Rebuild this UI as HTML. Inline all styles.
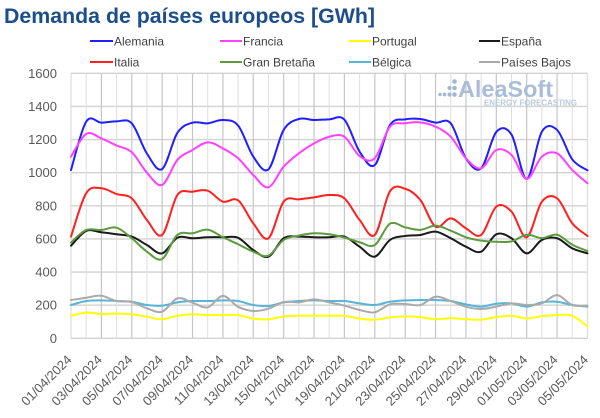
<!DOCTYPE html>
<html>
<head>
<meta charset="utf-8">
<style>
html,body{margin:0;padding:0;background:#fff;}
svg{display:block;font-family:"Liberation Sans",Arial,sans-serif;}
.g line{vector-effect:non-scaling-stroke;}
.s{fill:none;stroke-width:2;vector-effect:non-scaling-stroke;stroke-linejoin:round;stroke-linecap:round;}
.yl{font-size:13px;fill:#595959;text-anchor:end;}
.xl{font-size:13px;fill:#595959;text-anchor:end;}
.lg{font-size:12px;fill:#404040;}
</style>
</head>
<body>
<svg id="c" width="600" height="418" viewBox="0 0 600 418" xmlns="http://www.w3.org/2000/svg">
<rect width="600" height="418" fill="#fff"/>
<text x="4" y="23" font-size="21" font-weight="bold" fill="#1c4e8a" textLength="371" lengthAdjust="spacingAndGlyphs">Demanda de países europeos [GWh]</text>

<!-- legend -->
<g stroke-width="2">
<line x1="90" y1="41" x2="113" y2="41" stroke="#1f1fff"/>
<line x1="220" y1="41" x2="242" y2="41" stroke="#ff40ff"/>
<line x1="349" y1="41" x2="371" y2="41" stroke="#ffff00"/>
<line x1="479" y1="41" x2="500" y2="41" stroke="#1a1a1a"/>
<line x1="90" y1="62" x2="113" y2="62" stroke="#ff2020"/>
<line x1="220" y1="62" x2="242" y2="62" stroke="#5b9a3d"/>
<line x1="349" y1="62" x2="371" y2="62" stroke="#55b4d8"/>
<line x1="479" y1="62" x2="500" y2="62" stroke="#aaaaaa"/>
</g>
<text class="lg" x="114" y="45.5">Alemania</text>
<text class="lg" x="243" y="45.5">Francia</text>
<text class="lg" x="372" y="45.5">Portugal</text>
<text class="lg" x="501" y="45.5">España</text>
<text class="lg" x="114" y="66.5">Italia</text>
<text class="lg" x="243" y="66.5">Gran Bretaña</text>
<text class="lg" x="372" y="66.5">Bélgica</text>
<text class="lg" x="501" y="66.5">Países Bajos</text>

<!-- grid -->
<g class="g" transform="translate(71,338.3) scale(15.19,-0.165625)">
<g stroke="#d2d2d2" stroke-width="1.3">
<line x1="0" y1="0" x2="34" y2="0"/><line x1="0" y1="200" x2="34" y2="200"/><line x1="0" y1="400" x2="34" y2="400"/>
<line x1="0" y1="600" x2="34" y2="600"/><line x1="0" y1="800" x2="34" y2="800"/><line x1="0" y1="1000" x2="34" y2="1000"/>
<line x1="0" y1="1200" x2="34" y2="1200"/><line x1="0" y1="1400" x2="34" y2="1400"/><line x1="0" y1="1600" x2="34" y2="1600"/>
</g>
<g stroke="#dedede" stroke-width="1">
<line x1="1" y1="0" x2="1" y2="1600"/><line x1="3" y1="0" x2="3" y2="1600"/><line x1="5" y1="0" x2="5" y2="1600"/>
<line x1="7" y1="0" x2="7" y2="1600"/><line x1="9" y1="0" x2="9" y2="1600"/><line x1="11" y1="0" x2="11" y2="1600"/>
<line x1="13" y1="0" x2="13" y2="1600"/><line x1="15" y1="0" x2="15" y2="1600"/><line x1="17" y1="0" x2="17" y2="1600"/>
<line x1="19" y1="0" x2="19" y2="1600"/><line x1="21" y1="0" x2="21" y2="1600"/><line x1="23" y1="0" x2="23" y2="1600"/>
<line x1="25" y1="0" x2="25" y2="1600"/><line x1="27" y1="0" x2="27" y2="1600"/><line x1="29" y1="0" x2="29" y2="1600"/>
<line x1="31" y1="0" x2="31" y2="1600"/><line x1="33" y1="0" x2="33" y2="1600"/>
</g>
<g stroke="#c6c6c6" stroke-width="1.2">
<line x1="0" y1="0" x2="0" y2="1600" stroke="#dcdcdc"/><line x1="2" y1="0" x2="2" y2="1600"/><line x1="4" y1="0" x2="4" y2="1600"/>
<line x1="6" y1="0" x2="6" y2="1600"/><line x1="8" y1="0" x2="8" y2="1600"/><line x1="10" y1="0" x2="10" y2="1600"/>
<line x1="12" y1="0" x2="12" y2="1600"/><line x1="14" y1="0" x2="14" y2="1600"/><line x1="16" y1="0" x2="16" y2="1600"/>
<line x1="18" y1="0" x2="18" y2="1600"/><line x1="20" y1="0" x2="20" y2="1600"/><line x1="22" y1="0" x2="22" y2="1600"/>
<line x1="24" y1="0" x2="24" y2="1600"/><line x1="26" y1="0" x2="26" y2="1600"/><line x1="28" y1="0" x2="28" y2="1600"/>
<line x1="30" y1="0" x2="30" y2="1600"/><line x1="32" y1="0" x2="32" y2="1600"/><line x1="34" y1="0" x2="34" y2="1600" stroke="#dcdcdc"/>
</g>
</g>

<!-- watermark -->
<g fill="#a3b7d5">
<circle cx="440" cy="94.5" r="1.7"/>
<circle cx="444.5" cy="94.5" r="1.9"/>
<circle cx="449.5" cy="94.5" r="2.1"/>
<circle cx="454.5" cy="94.5" r="2.3"/>
<circle cx="449.5" cy="88" r="2.1"/>
<circle cx="454.5" cy="88" r="2.3"/>
<circle cx="454.5" cy="81.5" r="2.3"/>
</g>
<text x="458" y="97" font-size="23" font-weight="bold" fill="#a9bdd9" textLength="95" lengthAdjust="spacingAndGlyphs">AleaSoft</text>
<text x="484" y="105.3" font-size="8" font-weight="bold" fill="#b9c9df" textLength="93" lengthAdjust="spacingAndGlyphs">ENERGY FORECASTING</text>

<!-- y labels -->
<text class="yl" x="57" y="342.8">0</text>
<text class="yl" x="57" y="309.7">200</text>
<text class="yl" x="57" y="276.5">400</text>
<text class="yl" x="57" y="243.4">600</text>
<text class="yl" x="57" y="210.3">800</text>
<text class="yl" x="57" y="177.2">1000</text>
<text class="yl" x="57" y="144.1">1200</text>
<text class="yl" x="57" y="110.9">1400</text>
<text class="yl" x="57" y="77.8">1600</text>

<!-- x labels -->
<text class="xl" transform="translate(72.5,360.5) rotate(-45)">01/04/2024</text>
<text class="xl" transform="translate(102.9,360.5) rotate(-45)">03/04/2024</text>
<text class="xl" transform="translate(133.3,360.5) rotate(-45)">05/04/2024</text>
<text class="xl" transform="translate(163.6,360.5) rotate(-45)">07/04/2024</text>
<text class="xl" transform="translate(194.0,360.5) rotate(-45)">09/04/2024</text>
<text class="xl" transform="translate(224.4,360.5) rotate(-45)">11/04/2024</text>
<text class="xl" transform="translate(254.8,360.5) rotate(-45)">13/04/2024</text>
<text class="xl" transform="translate(285.2,360.5) rotate(-45)">15/04/2024</text>
<text class="xl" transform="translate(315.5,360.5) rotate(-45)">17/04/2024</text>
<text class="xl" transform="translate(345.9,360.5) rotate(-45)">19/04/2024</text>
<text class="xl" transform="translate(376.3,360.5) rotate(-45)">21/04/2024</text>
<text class="xl" transform="translate(406.7,360.5) rotate(-45)">23/04/2024</text>
<text class="xl" transform="translate(437.1,360.5) rotate(-45)">25/04/2024</text>
<text class="xl" transform="translate(467.4,360.5) rotate(-45)">27/04/2024</text>
<text class="xl" transform="translate(497.8,360.5) rotate(-45)">29/04/2024</text>
<text class="xl" transform="translate(528.2,360.5) rotate(-45)">01/05/2024</text>
<text class="xl" transform="translate(558.6,360.5) rotate(-45)">03/05/2024</text>
<text class="xl" transform="translate(589.0,360.5) rotate(-45)">05/05/2024</text>

<!-- series -->
<g id="ser" transform="translate(71,338.3) scale(15.19,-0.165625)">
<polyline class="s" stroke="#1f1fff" points="0,1016 1,1308 2,1302 3,1310 4,1298 5,1115 6,1022 7,1240 8,1302 9,1298 10,1318 11,1285 12,1097 13,1020 14,1258 15,1324 16,1318 17,1322 18,1320 19,1127 20,1046 21,1288 22,1322 23,1324 24,1302 25,1298 26,1087 27,1026 28,1246 29,1230 30,962 31,1248 32,1258 33,1080 34,1014"/>
<polyline class="s" stroke="#ff40ff" points="0,1097 1,1234 2,1207 3,1164 4,1124 5,1000 6,926 7,1077 8,1137 9,1183 10,1147 11,1087 12,986 13,912 14,1036 15,1117 16,1177 17,1217 18,1217 19,1100 20,1087 21,1278 22,1298 23,1304 24,1278 25,1217 26,1087 27,1026 28,1137 29,1107 30,962 31,1097 32,1117 33,1016 34,936"/>
<polyline class="s" stroke="#ffff00" points="0,136 1,155 2,147 3,149 4,145 5,130 6,115 7,136 8,145 9,140 10,140 11,140 12,119 13,115 14,132 15,136 16,136 17,136 18,136 19,119 20,112 21,126 22,132 23,128 24,115 25,122 26,115 27,113 28,128 29,136 30,120 31,134 32,140 33,136 34,72"/>
<polyline class="s" stroke="#1a1a1a" points="0,559 1,648 2,640 3,628 4,614 5,563 6,513 7,607 8,604 9,610 10,610 11,607 12,533 13,493 14,604 15,614 16,610 17,610 18,614 19,553 20,493 21,594 22,618 23,624 24,644 25,604 26,553 27,523 28,628 29,604 30,513 31,594 32,604 33,543 34,513"/>
<polyline class="s" stroke="#ff2020" points="0,614 1,876 2,906 3,871 4,845 5,714 6,624 7,865 8,885 9,891 10,825 11,833 12,694 13,604 14,825 15,839 16,851 17,865 18,845 19,714 20,624 21,888 22,903 23,835 24,674 25,724 26,664 27,624 28,795 29,765 30,610 31,825 32,845 33,694 34,618"/>
<polyline class="s" stroke="#5b9a3d" points="0,578 1,654 2,654 3,668 4,604 5,523 6,479 7,624 8,634 9,656 10,610 11,568 12,523 13,499 14,594 15,620 16,634 17,628 18,608 19,580 20,563 21,692 22,670 23,655 24,680 25,650 26,610 27,590 28,583 29,585 30,625 31,605 32,625 33,565 34,527"/>
<polyline class="s" stroke="#55b4d8" points="0,201 1,225 2,229 3,225 4,221 5,201 6,197 7,217 8,225 9,225 10,229 11,225 12,201 13,195 14,217 15,225 16,229 17,225 18,225 19,211 20,201 21,221 22,229 23,231 24,231 25,225 26,205 27,191 28,209 29,211 30,191 31,217 32,221 33,201 34,191"/>
<polyline class="s" stroke="#aaaaaa" points="0,231 1,245 2,257 3,225 4,219 5,181 6,161 7,241 8,215 9,187 10,256 11,190 12,165 13,179 14,219 15,217 16,235 17,217 18,197 19,171 20,157 21,205 22,207 23,201 24,251 25,225 26,191 27,177 28,191 29,211 30,201 31,211 32,261 33,201 34,197"/>
</g>
</svg>
<script>
(function(){
  var g=document.getElementById('ser');
  if(!g)return;
  var pls=g.querySelectorAll('polyline');
  for(var k=0;k<pls.length;k++){
    var pl=pls[k];
    var raw=pl.getAttribute('points').trim().split(/\s+/);
    var p=[];
    for(var i=0;i<raw.length;i++){var a=raw[i].split(',');p.push([parseFloat(a[0]),parseFloat(a[1])]);}
    var d='M'+p[0][0]+','+p[0][1];
    for(var i=0;i<p.length-1;i++){
      var p0=p[i-1]||p[i],p1=p[i],p2=p[i+1],p3=p[i+2]||p[i+1];
      var c1x=p1[0]+(p2[0]-p0[0])/6,c1y=p1[1]+(p2[1]-p0[1])/6;
      var c2x=p2[0]-(p3[0]-p1[0])/6,c2y=p2[1]-(p3[1]-p1[1])/6;
      d+=' C'+c1x.toFixed(3)+','+c1y.toFixed(2)+' '+c2x.toFixed(3)+','+c2y.toFixed(2)+' '+p2[0]+','+p2[1];
    }
    var path=document.createElementNS('http://www.w3.org/2000/svg','path');
    path.setAttribute('d',d);
    path.setAttribute('class','s');
    path.setAttribute('stroke',pl.getAttribute('stroke'));
    g.replaceChild(path,pl);
  }
})();
</script>
</body>
</html>
